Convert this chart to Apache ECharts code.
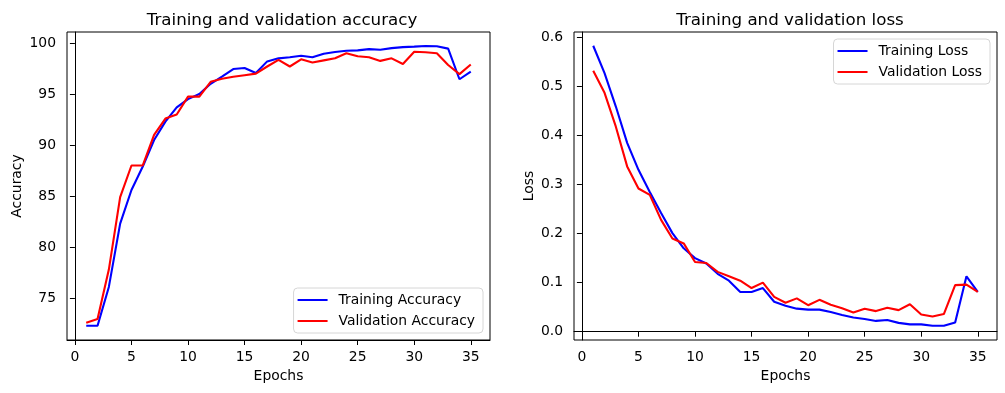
<!DOCTYPE html>
<html>
<head>
<meta charset="utf-8">
<script src="https://cdn.jsdelivr.net/npm/echarts/dist/echarts.min.js"></script>
<style>
html,body{margin:0;padding:0;background:#fff;}
#c{width:1005px;height:393px;}
</style>
</head>
<body>
<div id="c"></div>
<script>
var epochs = [1,2,3,4,5,6,7,8,9,10,11,12,13,14,15,16,17,18,19,20,21,22,23,24,25,26,27,28,29,30,31,32,33,34,35];
var trainAcc = [72.3,72.3,76.1,82.3,85.6,87.9,90.5,92.3,93.7,94.5,95.0,96.0,96.7,97.45,97.55,97.06,98.2,98.5,98.6,98.75,98.6,98.95,99.12,99.25,99.28,99.4,99.34,99.5,99.6,99.65,99.71,99.68,99.45,96.45,97.2];
var valAcc = [72.6,72.95,77.8,84.9,88.0,88.0,91.0,92.6,93.0,94.75,94.75,96.2,96.5,96.7,96.85,97.0,97.7,98.35,97.7,98.4,98.1,98.3,98.5,99.0,98.7,98.6,98.25,98.5,97.95,99.15,99.1,99.0,97.85,96.95,97.9];
var trainLoss = [0.583,0.527,0.459,0.385,0.330,0.285,0.242,0.201,0.170,0.150,0.139,0.118,0.104,0.081,0.081,0.089,0.061,0.053,0.047,0.045,0.045,0.040,0.034,0.029,0.026,0.022,0.024,0.018,0.015,0.015,0.012,0.012,0.019,0.113,0.081];
var valLoss = [0.532,0.487,0.418,0.337,0.292,0.279,0.228,0.190,0.180,0.142,0.140,0.122,0.113,0.104,0.089,0.100,0.071,0.059,0.068,0.054,0.065,0.055,0.048,0.039,0.047,0.042,0.049,0.044,0.056,0.035,0.031,0.036,0.095,0.096,0.081];
var xTicks = [0,5,10,15,20,25,30,35];
var accTicks = [75,80,85,90,95,100];
var lossTicks = [0.0,0.1,0.2,0.3,0.4,0.5,0.6];

function pairs(ys){ return epochs.map(function(e,i){ return [e, ys[i]]; }); }

var FONT = 'DejaVu Sans';
var tickFont = {fontFamily: FONT, fontSize: 13.9, color: '#000'};
var lineIcon = 'path://M0,0 L0.01,0 L0.01,0.01 Z M0,6 L30,6 L30,8 L0,8 Z M29.99,14 L30,14 L30,13.99 Z';

function xAxisCfg(gi){
  return {
    type: 'value', gridIndex: gi, min: -0.7, max: 36.7,
    name: 'Epochs', nameLocation: 'middle', nameGap: 29,
    nameTextStyle: {fontFamily: FONT, fontSize: 13.9, color: '#000'},
    splitLine: {show: false},
    axisLine: {show: true, lineStyle: {color: '#000', width: 1}},
    axisTick: {show: true, length: 5, lineStyle: {color: '#000'}, customValues: xTicks},
    axisLabel: Object.assign({margin: 10, customValues: xTicks}, tickFont)
  };
}
function yAxisCfg(gi, mn, mx, ticks, name, gap, fmt){
  return {
    type: 'value', gridIndex: gi, min: mn, max: mx,
    name: name, nameLocation: 'middle', nameGap: gap,
    nameTextStyle: {fontFamily: FONT, fontSize: 13.9, color: '#000'},
    splitLine: {show: false},
    axisLine: {show: true, lineStyle: {color: '#000', width: 1}},
    axisTick: {show: true, length: 5, lineStyle: {color: '#000'}, customValues: ticks},
    axisLabel: Object.assign({margin: 11, customValues: ticks, formatter: fmt}, tickFont)
  };
}
function lineSeries(name, xi, yi, ys, color){
  return {
    name: name, type: 'line', xAxisIndex: xi, yAxisIndex: yi,
    data: pairs(ys), symbol: 'none', showSymbol: false, animation: false,
    lineStyle: {color: color, width: 2.1}, itemStyle: {color: color}
  };
}
var legendBase = {
  orient: 'vertical', itemWidth: 30, itemHeight: 14, itemGap: 7,
  icon: lineIcon,
  padding: [5, 8, 5, 4],
  backgroundColor: '#fff', borderColor: '#d6d6d6', borderWidth: 1, borderRadius: 4,
  textStyle: {fontFamily: FONT, fontSize: 13.9, color: '#000', padding: [0,0,0,6]}
};

var chart = echarts.init(document.getElementById('c'), null, {renderer: 'canvas'});
chart.setOption({
  backgroundColor: '#fff',
  animation: false,
  title: [
    {text: 'Training and validation accuracy', left: 277, top: 7, textAlign: 'center',
     textStyle: {fontFamily: FONT, fontSize: 16.7, fontWeight: 'normal', color: '#000'}},
    {text: 'Training and validation loss', left: 785, top: 7, textAlign: 'center',
     textStyle: {fontFamily: FONT, fontSize: 16.7, fontWeight: 'normal', color: '#000'}}
  ],
  grid: [
    {left: 67, top: 32, width: 423, height: 308, show: true, borderColor: '#000', borderWidth: 1, backgroundColor: 'transparent'},
    {left: 574, top: 32, width: 423, height: 308, show: true, borderColor: '#000', borderWidth: 1, backgroundColor: 'transparent'}
  ],
  xAxis: [xAxisCfg(0), xAxisCfg(1)],
  yAxis: [
    yAxisCfg(0, 70.9, 101.08, accTicks, 'Accuracy', 43, function(v){ return String(v); }),
    yAxisCfg(1, -0.0169, 0.611, lossTicks, 'Loss', 38, function(v){ return v.toFixed(1); })
  ],
  legend: [
    Object.assign({}, legendBase, {data: ['Training Accuracy', 'Validation Accuracy'], right: 522, bottom: 60}),
    Object.assign({}, legendBase, {data: ['Training Loss', 'Validation Loss'], right: 15, top: 39})
  ],
  series: [
    lineSeries('Training Accuracy', 0, 0, trainAcc, '#0000ff'),
    lineSeries('Validation Accuracy', 0, 0, valAcc, '#ff0000'),
    lineSeries('Training Loss', 1, 1, trainLoss, '#0000ff'),
    lineSeries('Validation Loss', 1, 1, valLoss, '#ff0000')
  ]
});
</script>
</body>
</html>
